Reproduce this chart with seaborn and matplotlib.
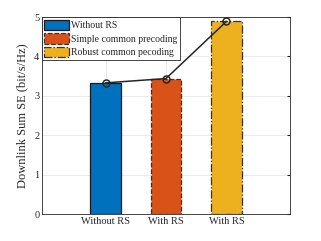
import matplotlib
matplotlib.use("Agg")
import matplotlib.pyplot as plt
import seaborn as sns
import pandas as pd

# data
positions = [1, 2, 3]
tick_labels = ["Without RS", "With RS", "With RS"]
series = ["Without RS", "Simple common precoding", "Robust common pecoding"]
sum_se = [3.33, 3.44, 4.89]
colors = ["#0072BD", "#D95319", "#EDB120"]
edge_styles = ["-", "--", "-."]

sns.set_style("white")
plt.rcParams["font.family"] = ["Liberation Serif", "DejaVu Serif"]
plt.rcParams["font.size"] = 7.5

df = pd.DataFrame({"pos": positions, "se": sum_se, "scheme": series})

fig = plt.figure(figsize=(3.21, 2.41), dpi=100)
ax = fig.add_axes([0.131, 0.112, 0.772, 0.817])

sns.barplot(data=df, x="pos", y="se", hue="scheme", palette=colors,
            native_scale=True, width=0.5, dodge=False, ax=ax, saturation=1)

for patch, ls in zip(ax.patches, edge_styles):
    patch.set_linestyle(ls)
    patch.set_edgecolor("#1a1a1a" if ls == "-" else "#333333")
    patch.set_linewidth(0.9)

sns.lineplot(x=positions, y=sum_se, color="#262626", marker="o", markersize=5,
             markerfacecolor="none", markeredgecolor="#262626", markeredgewidth=1.1,
             linewidth=1.1, ax=ax, legend=False)

ax.set_xlim(-0.05, 4.05)
ax.set_ylim(0, 5)
ax.set_xticks(positions)
ax.set_xticklabels(tick_labels)
ax.set_yticks([0, 1, 2, 3, 4, 5])
ax.set_xlabel("")
ax.set_ylabel("Downlink Sum SE (bit/s/Hz)", fontsize=9, labelpad=4)
ax.grid(True, axis="both", color="#e6e6e6", linewidth=0.6)
ax.set_axisbelow(True)
ax.tick_params(axis="both", length=2, direction="in", pad=2, top=False, right=True,
               labelsize=7.5)
for s in ax.spines.values():
    s.set_color("#262626")
    s.set_linewidth(0.6)

handles = ax.patches[:3]
leg = ax.legend(handles, series, loc="upper left", borderaxespad=0, fontsize=7,
                handlelength=2.5, handleheight=1.3, handletextpad=0.25,
                labelspacing=0.3, borderpad=0.25, fancybox=False,
                edgecolor="#262626", framealpha=1)
leg.get_frame().set_linewidth(0.6)

fig.savefig("out.png", dpi=100)
